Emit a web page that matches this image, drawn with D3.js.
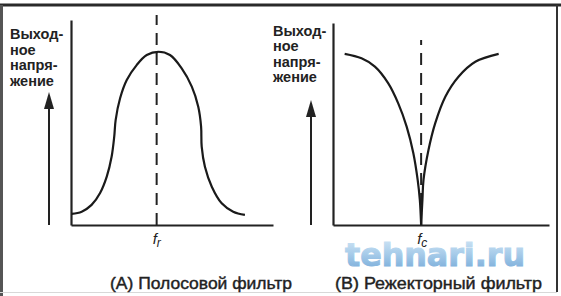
<!DOCTYPE html>
<html>
<head>
<meta charset="utf-8">
<script src="https://cdn.jsdelivr.net/npm/d3@7"></script>
<style>
  body { margin: 0; background: #fff; }
  svg { display: block; font-family: "Liberation Sans", Arial, sans-serif; }
</style>
</head>
<body>
<div id="chart"></div>
<script>
// полосовой фильтр (A)
const bandFreq = [0.3, 5.3, 10.2, 14.4, 17.7, 20.1, 21.4, 22.1, 24.3, 27.6, 32.5, 37.5, 43.2, 49, 54.8, 59.8, 63, 64.4, 64.7, 66.3, 69.7, 74.6, 80.3, 86.1];
const bandVolt = [5.4, 6.5, 9.8, 15.6, 23.6, 33.3, 43.1, 51.2, 61.8, 70.7, 78, 82.9, 84.5, 82.9, 76.4, 67.5, 57.7, 48, 38.2, 28.4, 18.7, 10.6, 6.5, 4.9];
const bandCenter = 42.4;

// режекторный фильтр (B) - две ветви
const notchLeftFreq = [5.4, 13.2, 19.4, 25.6, 30.2, 34.1, 37.2, 39.2, 40.2, 40.8];
const notchLeftVolt = [84.7, 82.5, 78.4, 70.1, 60.2, 48.7, 35.5, 22.3, 12.4, 0];
const notchRightFreq = [40.8, 41.4, 41.9, 44.2, 47.3, 52, 58.1, 65.9, 76.7];
const notchRightVolt = [0, 12.4, 22.3, 37.1, 50.3, 63.5, 73.4, 80.8, 84.7];
const notchCenter = 40.8;

const yLabel = ["Выход-", "ное", "напря-", "жение"];
const captions = ["(A) Полосовой фильтр", "(B) Режекторный фильтр"];

let width = 561;
let height = 296;

let svg = d3.select('#chart').append('svg')
    .attr('width', width)
    .attr('height', height);

// рамка
svg.append("line").attr("x1", 0).attr("x2", width).attr("y1", 5).attr("y2", 5)
    .attr("stroke", "#2a2a2a").attr("stroke-width", 3);
svg.append("line").attr("x1", 1.5).attr("x2", 1.5).attr("y1", 5).attr("y2", 296)
    .attr("stroke", "#555").attr("stroke-width", 3);
svg.append("line").attr("x1", 557).attr("x2", 557).attr("y1", 5).attr("y2", 292)
    .attr("stroke", "#333").attr("stroke-width", 2);
svg.append("line").attr("x1", 0).attr("x2", 557).attr("y1", 292.5).attr("y2", 292.5)
    .attr("stroke", "#d8d8d8").attr("stroke-width", 1);

// водяной знак (под графиком)
let grad = svg.append("defs").append("linearGradient")
    .attr("id", "wm").attr("x1", 0).attr("x2", 0).attr("y1", 0).attr("y2", 1);
grad.append("stop").attr("offset", "0%").attr("stop-color", "#d6e8f6");
grad.append("stop").attr("offset", "45%").attr("stop-color", "#a9cdea");
grad.append("stop").attr("offset", "100%").attr("stop-color", "#6fa5d6");
svg.append("text")
    .attr("x", 345)
    .attr("y", 266)
    .attr("font-family", "DejaVu Sans")
    .attr("font-weight", "bold")
    .attr("font-size", 32)
    .attr("fill", "url(#wm)")
    .attr("stroke", "url(#wm)")
    .attr("stroke-width", 1)
    .attr("textLength", 180)
    .attr("lengthAdjust", "spacingAndGlyphs")
    .text("tehnari.ru");

function panel(opt) {
    var x = d3.scaleLinear().domain([0, 100]).range(opt.xr);
    var y = d3.scaleLinear().domain([0, 100]).range(opt.yr);
    var g = svg.append("g");

    // оси без делений
    g.append("g")
        .attr("transform", "translate(0," + y(0) + ")")
        .call(d3.axisBottom(x).ticks(0).tickSizeOuter(0))
        .call(a => a.select(".domain").attr("stroke", "#222").attr("stroke-width", 2.2));
    g.append("g")
        .attr("transform", "translate(" + x(0) + ",0)")
        .call(d3.axisLeft(y).ticks(0).tickSizeOuter(0))
        .call(a => a.select(".domain").attr("stroke", "#222").attr("stroke-width", 2.2));

    // пунктир на центральной частоте
    g.append("line")
        .attr("x1", x(opt.center)).attr("x2", x(opt.center))
        .attr("y1", y(0)).attr("y2", y(opt.dashTop))
        .attr("stroke", "#222").attr("stroke-width", 2)
        .attr("stroke-dasharray", "12,8");

    var line = d3.line()
        .x(d => x(d[0]))
        .y(d => y(d[1]))
        .curve(d3.curveCatmullRom.alpha(0.5));

    opt.series.forEach(function (s) {
        g.append("path")
            .datum(d3.zip(s[0], s[1]))
            .attr("d", line)
            .attr("fill", "none")
            .attr("stroke", "#1a1a1a")
            .attr("stroke-width", 2.2);
    });

    // подпись оси Y
    var t = g.append("text")
        .attr("font-size", 14.5)
        .attr("font-weight", "bold")
        .attr("fill", "#222");
    yLabel.forEach(function (s, i) {
        t.append("tspan").attr("x", opt.labelX).attr("y", opt.labelY + i * opt.labelStep).text(s);
    });

    // стрелка
    g.append("line")
        .attr("x1", opt.arrowX).attr("x2", opt.arrowX)
        .attr("y1", y(0)).attr("y2", opt.arrowTip + 10)
        .attr("stroke", "#222").attr("stroke-width", 2);
    g.append("path")
        .attr("d", "M" + opt.arrowX + "," + opt.arrowTip +
            "L" + (opt.arrowX - 5) + "," + (opt.arrowTip + 17) +
            "L" + (opt.arrowX + 5) + "," + (opt.arrowTip + 17) + "Z")
        .attr("fill", "#222");

    // f с индексом
    var f = g.append("text")
        .attr("x", x(opt.center) - 4)
        .attr("y", y(0) + 19)
        .attr("font-size", 15)
        .attr("font-style", "italic")
        .attr("fill", "#222");
    f.append("tspan").text("f");
    f.append("tspan").attr("dy", 3).attr("font-size", 12).text(opt.sub);

    // подпись
    g.append("text")
        .attr("x", opt.capX)
        .attr("y", 289)
        .attr("font-size", 16)
        .attr("fill", "#222")
        .attr("stroke", "#222")
        .attr("stroke-width", 0.4)
        .attr("textLength", opt.capW)
        .attr("lengthAdjust", "spacingAndGlyphs")
        .text(opt.caption);
}

panel({
    xr: [71, 273], yr: [225, 20], center: bandCenter, dashTop: 102.5,
    series: [[bandFreq, bandVolt]],
    labelX: 10, labelY: 39, labelStep: 15.5,
    arrowX: 49, arrowTip: 92, sub: "r",
    caption: captions[0], capX: 110, capW: 182
});

panel({
    xr: [333, 549], yr: [225, 23], center: notchCenter, dashTop: 91.6,
    series: [[notchLeftFreq, notchLeftVolt], [notchRightFreq, notchRightVolt]],
    labelX: 273, labelY: 36, labelStep: 15.3,
    arrowX: 311, arrowTip: 100, sub: "c",
    caption: captions[1], capX: 335, capW: 207
});
</script>
</body>
</html>
